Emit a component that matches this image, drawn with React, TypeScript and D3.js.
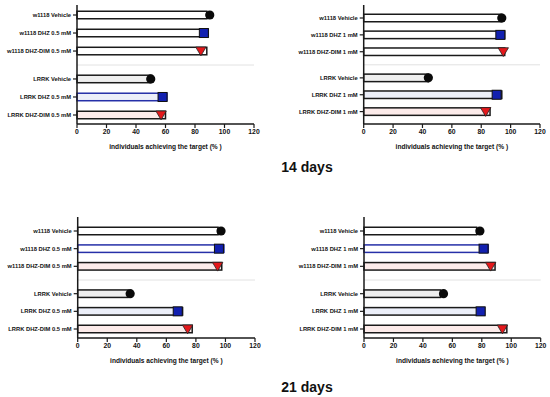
import React from 'react';
import * as d3 from 'd3';

// row labels
const labels05 = ['w1118 Vehicle', 'w1118 DHZ 0.5 mM', 'w1118 DHZ-DIM 0.5 mM', 'LRRK  Vehicle', 'LRRK DHZ 0.5 mM', 'LRRK DHZ-DIM 0.5 mM'];
const labels1 = ['w1118 Vehicle', 'w1118 DHZ 1 mM', 'w1118 DHZ-DIM 1 mM', 'LRRK  Vehicle', 'LRRK DHZ 1 mM', 'LRRK DHZ-DIM 1 mM'];
const markers = ['circle', 'square', 'triangle', 'circle', 'square', 'triangle'];
const xTicks = [0, 20, 40, 60, 80, 100, 120];

// 14 days
const bars14a = [88, 89, 88, 50, 61, 60];
const points14a = [90, 86, 84, 50, 58, 57];
const bars14b = [94, 96, 96, 44, 94, 86];
const points14b = [94, 93, 95, 44, 90.5, 83];
// 21 days
const bars21a = [95, 99, 97.5, 34, 71, 77.5];
const points21a = [97, 95.6, 94.7, 35.5, 67.7, 74.4];
const bars21b = [76.5, 84.4, 89, 52, 82, 97];
const points21b = [78.7, 81.2, 86, 54, 79.2, 94];

const rowIdx = [0, 1, 2, 3.55, 4.55, 5.55];

const WHITE = '#ffffff', GRAY = '#efefef', LAV = '#eceff9', PINK = '#fcebea';
const BLK = '#1a1a1a', BLUE = '#2630a8';

function Panel({ labels, bars, points, fills, strokes, x0, x1, top, axisY, firstRow, lastRow }) {
  const x = d3.scaleLinear().domain([0, 120]).range([x0, x1]);
  const y = d3.scaleLinear().domain([0, 5.55]).range([firstRow, lastRow]);
  const bh = 7.5;
  const sepY = y(2.775);
  return (
    <g fontFamily="Arial, 'Liberation Sans', sans-serif" fontWeight="bold">
      <line x1={x0} x2={x1} y1={sepY} y2={sepY} stroke="#e2e2e2" strokeWidth={1} />
      {bars.map((v, i) => {
        const cy = y(rowIdx[i]);
        return (
          <rect key={i} x={x(0)} y={cy - bh / 2} width={x(v) - x(0)} height={bh}
            fill={fills[i]} stroke={strokes[i]} strokeWidth={1.5} />
        );
      })}
      {points.map((v, i) => {
        const cy = y(rowIdx[i]);
        const cx = x(v);
        if (markers[i] === 'circle') return <circle key={i} cx={cx} cy={cy} r={4.6} fill="#0a0a0a" />;
        if (markers[i] === 'square')
          return <rect key={i} x={cx - 4.5} y={cy - 4.5} width={9} height={9} fill="#1220b0" stroke="#111" strokeWidth={1} />;
        const tri = d3.line()([[cx - 5.2, cy - 4], [cx + 5.2, cy - 4], [cx, cy + 4.8]]) + 'Z';
        return <path key={i} d={tri} fill="#e4181b" stroke="#222" strokeWidth={0.8} />;
      })}
      {/* y axis */}
      <line x1={x0} x2={x0} y1={top} y2={axisY} stroke={BLK} strokeWidth={1.5} />
      {labels.map((l, i) => {
        const cy = y(rowIdx[i]);
        return (
          <g key={l}>
            <line x1={x0 - 4} x2={x0} y1={cy} y2={cy} stroke={BLK} strokeWidth={1.2} />
            <text x={x0 - 6} y={cy} dy="0.35em" textAnchor="end" fontSize={5.8} fill="#111">{l}</text>
          </g>
        );
      })}
      {/* x axis */}
      <line x1={x0} x2={x1} y1={axisY} y2={axisY} stroke={BLK} strokeWidth={1.5} />
      {xTicks.map((t) => (
        <g key={t}>
          <line x1={x(t)} x2={x(t)} y1={axisY} y2={axisY + 4} stroke={BLK} strokeWidth={1.2} />
          <text x={x(t)} y={axisY + 7.5} dy="0.35em" textAnchor="middle" fontSize={6.8} fill="#111">{t}</text>
        </g>
      ))}
      <text x={(x0 + x1) / 2} y={axisY + 23} dy="0.35em" textAnchor="middle" fontSize={6.6} fill="#111">
        individuals achieving the target (% )
      </text>
    </g>
  );
}

export default function App() {
  const fillsTop = [WHITE, WHITE, WHITE, GRAY, LAV, PINK];
  const fillsBot = [WHITE, WHITE, PINK, GRAY, LAV, PINK];
  return (
    <svg width={550} height={397} style={{ position: 'absolute', left: 0, top: 0, background: '#fff' }}>
      <Panel labels={labels05} bars={bars14a} points={points14a} fills={fillsTop}
        strokes={[BLK, BLK, BLK, BLK, BLUE, BLK]} x0={77} x1={254} top={5} axisY={124} firstRow={15} lastRow={115} />
      <Panel labels={labels1} bars={bars14b} points={points14b} fills={fillsTop}
        strokes={[BLK, BLK, BLK, BLK, BLK, BLK]} x0={363.7} x1={540} top={5} axisY={124} firstRow={18} lastRow={111.6} />
      <Panel labels={labels05} bars={bars21a} points={points21a} fills={fillsBot}
        strokes={[BLK, BLUE, BLK, BLK, BLK, BLK]} x0={77.7} x1={255} top={217} axisY={338} firstRow={231} lastRow={329} />
      <Panel labels={labels1} bars={bars21b} points={points21b} fills={fillsBot}
        strokes={[BLK, BLUE, BLK, BLK, BLK, BLK]} x0={364} x1={540.7} top={217} axisY={338} firstRow={231} lastRow={329} />
      <text x={307} y={167} dy="0.35em" textAnchor="middle" fontSize={14} fontWeight="bold"
        fontFamily="Arial, 'Liberation Sans', sans-serif" fill="#111">14 days</text>
      <text x={307} y={387} dy="0.35em" textAnchor="middle" fontSize={14} fontWeight="bold"
        fontFamily="Arial, 'Liberation Sans', sans-serif" fill="#111">21 days</text>
    </svg>
  );
}
